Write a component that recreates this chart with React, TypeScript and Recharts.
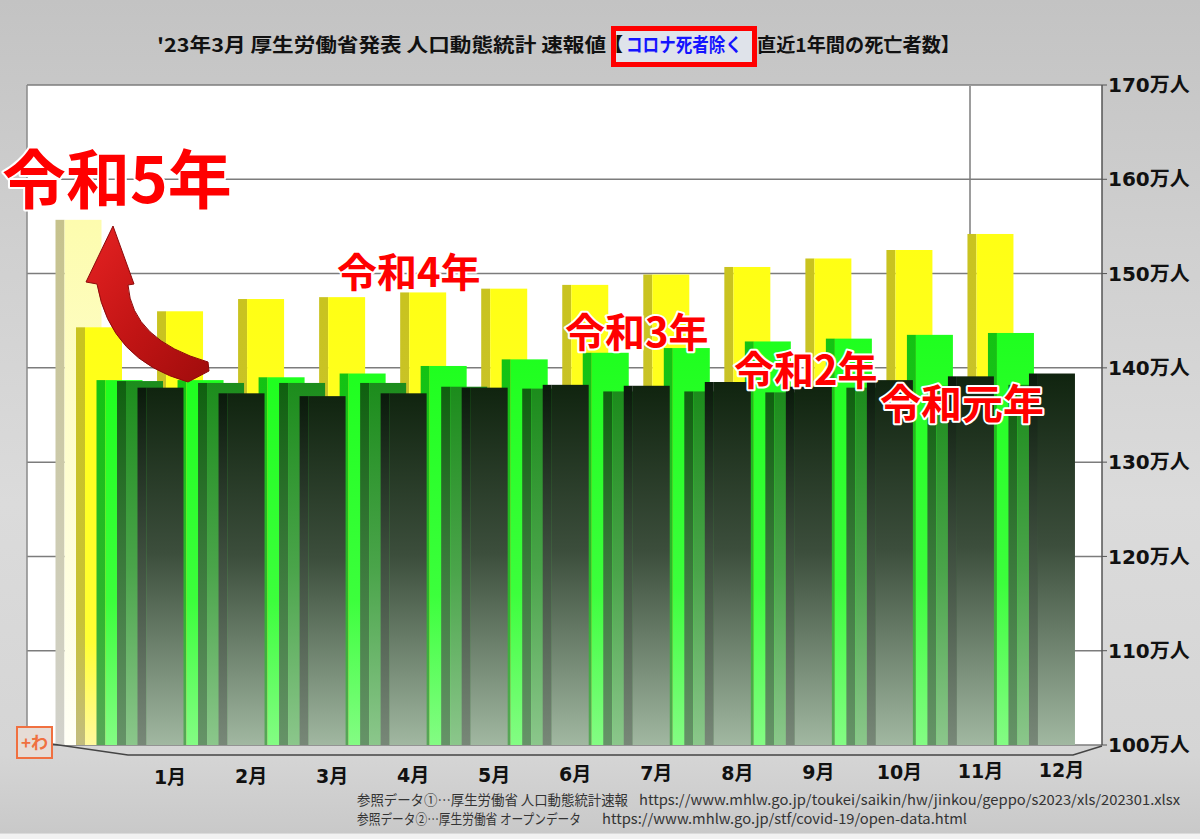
import React from "react";
import { BarChart, Bar, XAxis, YAxis, CartesianGrid } from "recharts";

// rolling 12-month deaths (excluding covid), 万人
const months = ["1月", "2月", "3月", "4月", "5月", "6月", "7月", "8月", "9月", "10月", "11月", "12月"];
const reiwa5 = [155.7, null, null, null, null, null, null, null, null, null, null, null];
const reiwa4 = [144.3, 146.0, 147.3, 147.5, 148.0, 148.4, 148.8, 149.9, 150.7, 151.6, 152.5, 154.2];
const reiwa3 = [138.7, 138.7, 139.0, 139.4, 140.2, 140.9, 141.6, 142.1, 142.8, 143.1, 143.5, 143.7];
const reiwa2 = [138.6, 138.4, 138.4, 138.4, 138.0, 137.8, 137.5, 137.5, 137.4, 137.9, 138.1, 138.2];
const reiwaGannen = [137.9, 137.3, 137.0, 137.3, 137.9, 138.2, 138.1, 138.5, 138.0, 138.7, 139.1, 139.4];
const yTicks = [100, 110, 120, 130, 140, 150, 160, 170];

const data = months.map((month, i) => ({
  month,
  r5: reiwa5[i],
  r4: reiwa4[i],
  r3: reiwa3[i],
  r2: reiwa2[i],
  r1: reiwaGannen[i],
}));

// back row first, front row last
const series = [
  { key: "r5", axis: "d0" },
  { key: "r4", axis: "d1" },
  { key: "r3", axis: "d2" },
  { key: "r2", axis: "d3" },
  { key: "r1", axis: "m" },
];

const DEPTH_STEP = 20.5;
const FRONT_SHIFT = -10;
const SIDE = 9;
const BOTTOM_EXT = [0, 2, 4.5, 7, 10];
const PAD = { left: 102.5, right: 0 };
const LABEL_BASE = 784;

const jp = "'Noto Sans CJK JP', sans-serif";
const axisFont = "'DejaVu Sans', 'Noto Sans CJK JP', sans-serif";

const boxShape = (depth: number, key: string) => (props: any) => {
  const { x, y, width, height, payload } = props;
  if (!payload || payload[key] == null || !(height > 0)) return <g />;
  const left = x + FRONT_SHIFT - (4 - depth) * DEPTH_STEP;
  const h = height + BOTTOM_EXT[depth];
  return (
    <g>
      <rect x={left} y={y} width={SIDE} height={h} fill={`url(#side${depth})`} />
      <rect x={left + SIDE} y={y} width={width - SIDE} height={h} fill={`url(#front${depth})`} />
    </g>
  );
};

// month labels sit a little lower on the left (perspective floor)
const MonthTick = (props: any) => {
  const { x, payload, index } = props;
  return (
    <text
      x={x}
      y={LABEL_BASE - index * 0.6}
      textAnchor="middle"
      fontFamily={axisFont}
      fontWeight="bold"
      fontSize={19}
      fill="#111"
    >
      {payload.value}
    </text>
  );
};

const grad = (id: string, stops: [number, string][]) => (
  <linearGradient id={id} x1="0" y1="0" x2="0" y2="1">
    {stops.map(([o, c]) => (
      <stop key={o} offset={o} stopColor={c} />
    ))}
  </linearGradient>
);

const RedLabel = ({ x, y, size, children }: any) => (
  <text
    x={x}
    y={y}
    fontFamily={jp}
    fontWeight="bold"
    fontSize={size}
    fill="#ff0000"
    stroke="#ffffff"
    strokeWidth={4}
    strokeLinejoin="round"
    style={{ paintOrder: "stroke" }}
  >
    {children}
  </text>
);

const App: React.FC = () => {
  return (
    <div
      style={{
        position: "absolute",
        left: 0,
        top: 0,
        width: 1200,
        height: 839,
        overflow: "hidden",
        background:
          "linear-gradient(180deg, #c3c3c3 0%, #d0d0d0 30%, #dbdbdb 60%, #d5d5d5 90%, #c9c9c9 99.3%, #f2f2f2 99.4%)",
      }}
    >
      <svg width={0} height={0} style={{ position: "absolute" }}>
        <defs>
          {grad("side0", [[0, "#c6c28c"], [1, "#d2d2cc"]])}
          {grad("front0", [[0, "#fdfcae"], [1, "#fffff6"]])}
          {grad("side1", [[0, "#c9c31f"], [0.7, "#c8c236"], [1, "#c2bc80"]])}
          {grad("front1", [[0, "#ffff14"], [0.75, "#ffff34"], [1, "#fff8a0"]])}
          {grad("side2", [[0, "#13c313"], [0.6, "#2db52d"], [1, "#5aa45a"]])}
          {grad("front2", [[0, "#1fff1f"], [0.6, "#3cff3c"], [1, "#86fc86"]])}
          {grad("side3", [[0, "#0f600f"], [1, "#68946a"]])}
          {grad("front3", [[0, "#1c8c1c"], [0.5, "#4aa44a"], [1, "#8ec88e"]])}
          {grad("side4", [[0, "#0a1a0b"], [1, "#7b8b7b"]])}
          {grad("front4", [[0, "#10240f"], [0.45, "#3c4e3c"], [1, "#a6bda6"]])}
          <linearGradient id="arrowGrad" x1="0" y1="0" x2="1" y2="1">
            <stop offset="0" stopColor="#e62222" />
            <stop offset="0.55" stopColor="#c01414" />
            <stop offset="1" stopColor="#a00c0c" />
          </linearGradient>
        </defs>
      </svg>

      <div style={{ position: "absolute", left: 0, top: 0 }}>
        <BarChart
          width={1200}
          height={839}
          data={data}
          margin={{ top: 85, right: 2, bottom: 54, left: 27 }}
        >
          <CartesianGrid
            xAxisId="m"
            vertical={false}
            fill="#ffffff"
            stroke="#7c7c7c"
            strokeWidth={1.5}
          />
          <XAxis
            xAxisId="m"
            dataKey="month"
            padding={PAD}
            height={40}
            interval={0}
            axisLine={false}
            tickLine={false}
            tick={<MonthTick />}
          />
          <XAxis xAxisId="d0" dataKey="month" padding={PAD} hide />
          <XAxis xAxisId="d1" dataKey="month" padding={PAD} hide />
          <XAxis xAxisId="d2" dataKey="month" padding={PAD} hide />
          <XAxis xAxisId="d3" dataKey="month" padding={PAD} hide />
          <YAxis
            orientation="right"
            domain={[100, 170]}
            ticks={yTicks}
            allowDataOverflow
            width={96}
            tickSize={5}
            tickMargin={1}
            axisLine={{ stroke: "#555", strokeWidth: 1.5 }}
            tickLine={{ stroke: "#555" }}
            tickFormatter={(v: number) => `${v}万人`}
            tick={{ fill: "#111", fontSize: 20, fontWeight: "bold", fontFamily: axisFont }}
          />
          {series.map((s, k) => (
            <Bar
              key={s.key}
              xAxisId={s.axis}
              dataKey={s.key}
              barSize={46}
              shape={boxShape(k, s.key)}
              isAnimationActive={false}
            />
          ))}
        </BarChart>
      </div>

      <svg
        width={1200}
        height={839}
        style={{ position: "absolute", left: 0, top: 0, pointerEvents: "none" }}
      >
        {/* wall edges and floor */}
        <line x1={27} y1={85} x2={27} y2={745} stroke="#8a8a8a" strokeWidth={1.5} />
        <line x1={970} y1={86} x2={970} y2={234} stroke="#7c7c7c" strokeWidth={1.5} />
        <polyline
          points="27,744 52,744 128,755 1073,755 1102,746"
          fill="none"
          stroke="#444"
          strokeWidth={1.5}
        />

        {/* title */}
        <text x={157} y={52} fontFamily={jp} fontWeight="bold" fontSize={19} fill="#111" textLength={449} lengthAdjust="spacingAndGlyphs">
          '23年3月 厚生労働省発表 人口動態統計 速報値
        </text>
        <rect x={613.5} y={28.5} width={141} height={36} fill="#dfe3ea" stroke="#ff0000" strokeWidth={5} />
        <text x={604} y={52} fontFamily={jp} fontWeight="bold" fontSize={19} fill="#111">
          【
        </text>
        <text x={626} y={52} fontFamily={jp} fontWeight="bold" fontSize={19} fill="#1414ff" textLength={116} lengthAdjust="spacingAndGlyphs">
          コロナ死者除く
        </text>
        <text x={757} y={52} fontFamily={jp} fontWeight="bold" fontSize={19} fill="#111" textLength={203} lengthAdjust="spacingAndGlyphs">
          直近1年間の死亡者数】
        </text>

        {/* arrow */}
        <path
          d="M113,226 L134,284 L128,285 Q132,340 208,362 L209,371 L188,382 Q110,360 97,284 L86,282 Z"
          fill="url(#arrowGrad)"
          stroke="#8c0a0a"
          strokeWidth={1}
        />

        {/* series labels */}
        <RedLabel x={2} y={203} size={64}>令和5年</RedLabel>
        <RedLabel x={337} y={287} size={40}>令和4年</RedLabel>
        <RedLabel x={565} y={347} size={40}>令和3年</RedLabel>
        <RedLabel x={734} y={385} size={40}>令和2年</RedLabel>
        <RedLabel x={880} y={419} size={41}>令和元年</RedLabel>

        {/* footer */}
        <text x={357} y={805} fontFamily={jp} fontSize={14} fill="#333" textLength={271} lengthAdjust="spacingAndGlyphs">
          参照データ①…厚生労働省 人口動態統計速報
        </text>
        <text x={639} y={805} fontFamily={jp} fontSize={14} fill="#333" textLength={541} lengthAdjust="spacingAndGlyphs">
          https://www.mhlw.go.jp/toukei/saikin/hw/jinkou/geppo/s2023/xls/202301.xlsx
        </text>
        <text x={357} y={824} fontFamily={jp} fontSize={14} fill="#333" textLength={224} lengthAdjust="spacingAndGlyphs">
          参照データ②…厚生労働省 オープンデータ
        </text>
        <text x={602} y={824} fontFamily={jp} fontSize={14} fill="#333" textLength={365} lengthAdjust="spacingAndGlyphs">
          https://www.mhlw.go.jp/stf/covid-19/open-data.html
        </text>

        {/* logo */}
        <rect x={17} y={727} width={35} height={31} fill="#e6dcd6" stroke="#f07040" strokeWidth={2} />
        <text x={34.5} y={749} textAnchor="middle" fontFamily={jp} fontWeight="bold" fontSize={17} fill="#f07040">
          +わ
        </text>
      </svg>
    </div>
  );
};

export default App;
